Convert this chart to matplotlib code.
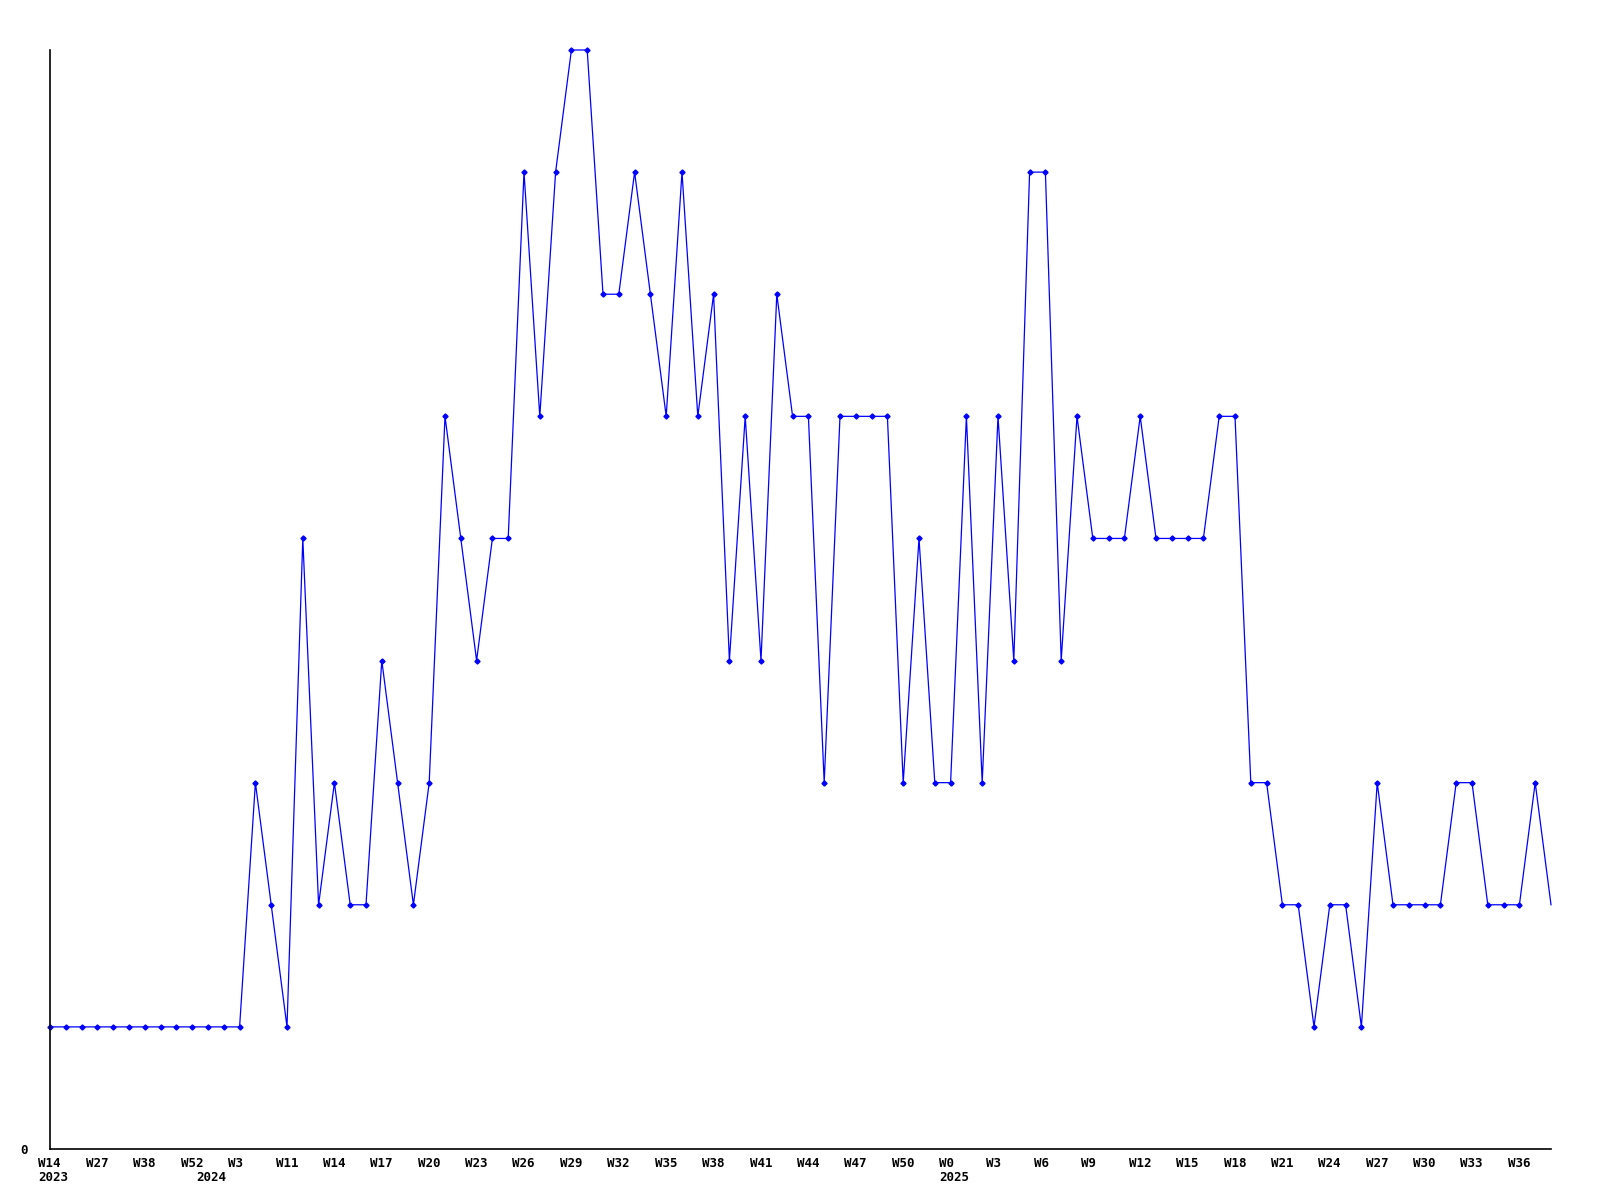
import numpy as np
import matplotlib.pyplot as plt
from matplotlib.transforms import ScaledTranslation, blended_transform_factory

# weekly counts, one value per week
values = [1, 1, 1, 1, 1, 1, 1, 1, 1, 1, 1, 1, 1,
          3, 2, 1, 5, 2, 3, 2, 2, 4, 3,
          2, 3, 6, 5, 4, 5, 5, 8, 6, 8,
          9, 9, 7, 7, 8, 7, 6, 8, 6, 7,
          4, 6, 4, 7, 6, 6, 3, 6, 6, 6,
          6, 3, 5, 3, 3, 6, 3, 6, 4, 8,
          8, 4, 6, 5, 5, 5, 6, 5, 5, 5,
          5, 6, 6, 3, 3, 2, 2, 1, 2, 2,
          1, 3, 2, 2, 2, 2, 3, 3, 2, 2,
          2, 3, 2]

# week labels shown on every third point
week_labels = ["W14", "W27", "W38", "W52", "W3", "W11", "W14", "W17", "W20", "W23",
               "W26", "W29", "W32", "W35", "W38", "W41", "W44", "W47", "W50", "W0",
               "W3", "W6", "W9", "W12", "W15", "W18", "W21", "W24", "W27", "W30",
               "W33", "W36"]

# year labels and the point index where each year starts
year_labels = ["2023", "2024", "2025"]
year_index = [0, 10, 57]

x = np.arange(len(values))

fig = plt.figure(figsize=(16, 12), dpi=100)
ax = fig.add_axes([50/1600, 1 - 1149/1200, 1501/1600, 1099/1200])

ax.plot(x, values, color="#0000ff", linewidth=0.9, marker="D", markersize=2.6,
        markevery=list(range(len(values) - 1)), clip_on=False)

ax.set_xlim(0, len(values) - 1)
ax.set_ylim(0, 9)

for side in ["top", "right"]:
    ax.spines[side].set_visible(False)
ax.spines["left"].set_linewidth(1.2)
ax.spines["bottom"].set_linewidth(1.2)

font = dict(family="DejaVu Sans Mono", weight="bold", size=9)

ax.set_yticks([0])
ax.set_yticklabels(["0"], **font)
ax.tick_params(axis="y", length=0, pad=16)

ax.set_xticks(x[::3][:len(week_labels)])
ax.set_xticklabels(week_labels, ha="left", **font)
ax.tick_params(axis="x", length=0, pad=6)
shift = ScaledTranslation(-11.5/100, 0, fig.dpi_scale_trans)
for lab in ax.get_xticklabels():
    lab.set_transform(lab.get_transform() + shift)

trans = blended_transform_factory(ax.transData, ax.transAxes) + shift
for yl, yi in zip(year_labels, year_index):
    ax.text(yi, -0.02, yl, transform=trans, ha="left", va="top", **font)

fig.savefig("out.png", dpi=100)
